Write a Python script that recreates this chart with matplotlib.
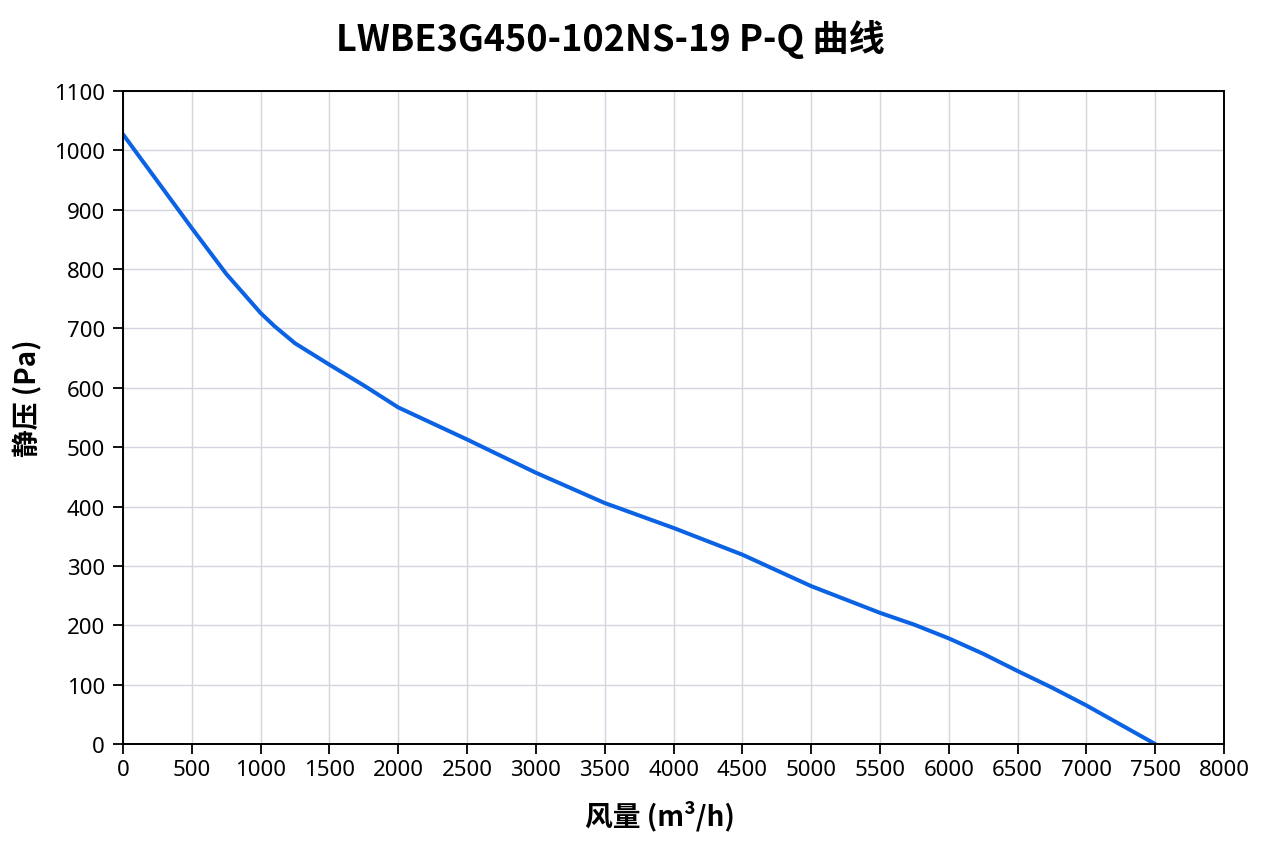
import numpy as np
import matplotlib
matplotlib.use('Agg')
import matplotlib.pyplot as plt

plt.rcParams['font.family'] = ['Noto Sans CJK SC', 'DejaVu Sans']

# ------------------------------ Data -----------------------------------
# airflow (m³/h) and static pressure (Pa)
airflow = [0, 250, 500, 750, 1000, 1100, 1250, 1500, 1750, 2000, 2500,
           3000, 3500, 3750, 4000, 4500, 5000, 5500, 5750, 6000, 6250, 6500,
           6750, 7000, 7500]
pressure = [1027, 948, 869, 792, 726, 704, 675, 639, 604, 567, 513,
            457, 406, 385, 364, 319, 266, 221, 201, 178, 152, 123,
            95, 65, 0]

x_ticks = list(range(0, 8001, 500))
y_ticks = list(range(0, 1101, 100))

title = 'LWBE3G450-102NS-19 P-Q 曲线'
x_label = '风量 (m³/h)'
y_label = '静压 (Pa)'

# ------------------------------ Plot -----------------------------------
fig = plt.figure(figsize=(12.67, 8.45), dpi=100)
ax = fig.add_axes([0.0971, 0.1183, 0.869, 0.7728])

ax.plot(airflow, pressure, color='#0b63e3', linewidth=2.9,
        solid_capstyle='round', solid_joinstyle='round')

ax.set_xlim(0, 8000)
ax.set_ylim(0, 1100)
ax.set_xticks(x_ticks)
ax.set_yticks(y_ticks)
ax.tick_params(axis='both', length=7.5, width=1.3, color='black')
ax.tick_params(axis='x', pad=3.5)
ax.tick_params(axis='y', pad=5.5)
for lbl in ax.get_xticklabels() + ax.get_yticklabels():
    lbl.set_family('Noto Sans')
    lbl.set_fontsize(16)
ax.grid(True, color='#d3d6de', linewidth=1.0)
ax.set_axisbelow(True)
for s in ax.spines.values():
    s.set_linewidth(1.4)
    s.set_color('black')

ax.set_xlabel(x_label, fontsize=20, fontweight='bold')
ax.set_ylabel(y_label, fontsize=20, fontweight='bold')
ax.xaxis.set_label_coords(0.488, -0.086)
ax.yaxis.set_label_coords(-0.0736, 0.531)

fig.text(0.482, 0.953, title, fontsize=26, fontweight='bold', ha='center', va='center')

fig.savefig('out.png', dpi=100, facecolor='white')
